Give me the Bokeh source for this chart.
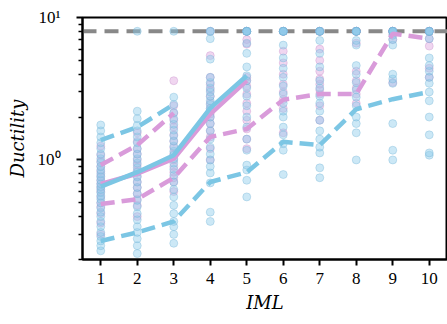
from bokeh.plotting import figure
from bokeh.models import Range1d, FixedTicker
from bokeh.embed import file_html
from bokeh.resources import INLINE

iml = [1, 2, 3, 4, 5, 6, 7, 8, 9, 10]

# scatter data per IML (blue series)
blue_1 = [0.23, 0.25, 0.27, 0.29, 0.31, 0.34, 0.37, 0.40, 0.43, 0.46, 0.50, 0.53, 0.56, 0.59, 0.62,
          0.65, 0.68, 0.72, 0.76, 0.80, 0.85, 0.90, 0.96, 1.02, 1.10, 1.20, 1.32, 1.45, 1.60, 1.76]
blue_2 = [0.22, 0.25, 0.28, 0.31, 0.34, 0.38, 0.42, 0.47, 0.52, 0.58, 0.64, 0.70, 0.76, 0.82, 0.88,
          0.95, 1.02, 1.10, 1.20, 1.32, 1.45, 1.60, 1.75, 1.95, 2.2, 8.0]
blue_3 = [0.26, 0.30, 0.34, 0.37, 0.42, 0.48, 0.55, 0.62, 0.70, 0.78, 0.86, 0.95, 1.02, 1.08, 1.15,
          1.25, 1.36, 1.48, 1.62, 1.78, 1.95, 2.15, 2.45, 2.76, 8.0]
blue_4 = [0.37, 0.43, 0.69, 0.81, 0.9, 1.0, 1.1, 1.23, 1.4, 1.6, 1.8, 2.0, 2.2, 2.3, 2.45, 2.6, 2.8,
          3.0, 3.2, 3.5, 3.8, 5.1, 7.1, 8.0, 8.0]
blue_5 = [0.55, 0.72, 0.85, 0.92, 1.17, 1.4, 1.7, 2.0, 2.4, 2.8, 3.2, 3.6, 3.9, 4.5, 5.6, 6.6,
          8.0, 8.0, 8.0, 8.0, 8.0]
blue_6 = [0.79, 1.17, 1.3, 1.5, 1.7, 2.0, 2.2, 2.5, 2.9, 3.3, 3.8, 4.4, 5.2, 6.4, 8.0, 8.0, 8.0, 8.0, 8.0]
blue_7 = [0.75, 0.88, 1.12, 1.23, 1.4, 1.6, 1.9, 2.2, 2.5, 2.8, 3.2, 3.6, 4.5, 5.6, 6.9, 8.0, 8.0, 8.0, 8.0]
blue_8 = [1.0, 1.55, 1.8, 2.0, 2.4, 2.76, 3.1, 3.5, 4.0, 4.6, 6.4, 6.9, 8.0, 8.0, 8.0, 8.0, 8.0]
blue_9 = [1.0, 1.17, 1.8, 3.45, 3.7, 4.0, 6.4, 7.0, 7.5, 8.0, 8.0, 8.0, 8.0, 8.0]
blue_10 = [1.08, 1.12, 1.5, 2.0, 2.6, 3.0, 3.45, 3.8, 4.2, 4.6, 5.2, 7.1, 8.0, 8.0, 8.0, 8.0]

# scatter data per IML (pink series)
pink_1 = [0.30, 0.36, 0.42, 0.47, 0.50, 0.55, 0.60, 0.64, 0.68, 0.72, 0.77, 0.83, 0.90, 0.98, 1.08, 1.25]
pink_2 = [0.40, 0.48, 0.53, 0.58, 0.64, 0.70, 0.77, 0.84, 0.92, 1.0, 1.1, 1.2, 1.35, 1.55]
pink_3 = [0.6, 0.7, 0.75, 0.82, 0.9, 1.0, 1.1, 1.22, 1.35, 1.5, 1.7, 1.9, 2.13, 2.4, 3.6]
pink_4 = [1.0, 1.2, 1.45, 1.6, 1.8, 2.0, 2.1, 2.3, 2.5, 2.8, 3.1, 3.4, 3.8, 5.4, 8.0]
pink_5 = [1.2, 1.4, 1.65, 1.9, 2.2, 2.5, 2.9, 3.3, 3.6, 3.8, 6.5, 7.0, 8.0, 8.0, 8.0]
pink_6 = [1.55, 2.3, 2.65, 3.0, 3.4, 4.0, 4.8, 5.8, 8.0, 8.0, 8.0]
pink_7 = [1.9, 2.4, 2.9, 3.1, 3.4, 3.7, 4.2, 5.0, 6.0, 8.0, 8.0, 8.0]
pink_8 = [2.5, 2.9, 3.2, 3.6, 4.2, 6.6, 8.0, 8.0, 8.0, 8.0]
pink_9 = [3.5, 7.0, 7.7, 8.0, 8.0, 8.0, 8.0, 8.0]
pink_10 = [3.8, 4.4, 6.3, 7.1, 8.0, 8.0, 8.0, 8.0]

# summary lines
blue_median_x = [1, 2, 3, 4, 5]
blue_median = [0.65, 0.82, 1.08, 2.31, 3.9]
blue_upper_x = [1, 2, 3]
blue_upper = [1.38, 1.70, 2.45]
blue_lower = [0.27, 0.31, 0.37, 0.70, 0.82, 1.34, 1.27, 2.27, 2.67, 3.0]

pink_median_x = [1, 2, 3, 4, 5]
pink_median = [0.68, 0.80, 1.02, 2.1, 3.6]
pink_upper_x = [1, 2, 3]
pink_upper = [0.92, 1.27, 2.13]
pink_lower = [0.49, 0.53, 0.75, 1.45, 1.65, 2.65, 2.9, 2.9, 7.7, 7.1]

collapse_level = 8.0

y_major_ticks = [1, 10]
y_minor_ticks = [0.2, 0.3, 0.4, 0.5, 0.6, 0.7, 0.8, 0.9, 2, 3, 4, 5, 6, 7, 8, 9]
y_tick_labels = {1: "10\u2070", 10: "10\u00b9"}

BLUE = "#7CC6E4"
PINK = "#D99BDA"
PT_BLUE = "#8ECDEB"
PT_PINK = "#DDA5DD"
TICK_FONT = "Liberation Serif"
LABEL_FONT = "DejaVu Serif"

p = figure(width=447, height=324, y_axis_type="log", output_backend="svg",
           toolbar_location=None, x_range=Range1d(0.5, 10.5), y_range=Range1d(0.2, 10),
           min_border_left=82, min_border_right=0, min_border_top=17, min_border_bottom=65)

p.xgrid.visible = False
p.ygrid.visible = False
p.outline_line_color = "black"
p.outline_line_width = 2

# collapse line
p.line([0.5, 10.5], [collapse_level, collapse_level], line_color="#888888", line_width=4,
       line_dash="14 8")

blue_sets = [blue_1, blue_2, blue_3, blue_4, blue_5, blue_6, blue_7, blue_8, blue_9, blue_10]
pink_sets = [pink_1, pink_2, pink_3, pink_4, pink_5, pink_6, pink_7, pink_8, pink_9, pink_10]

bx, by = [], []
for xv, ys in zip(iml, blue_sets):
    bx += [xv] * len(ys)
    by += ys
px, py = [], []
for xv, ys in zip(iml, pink_sets):
    px += [xv] * len(ys)
    py += ys

p.scatter(px, py, size=8, fill_color=PT_PINK, fill_alpha=0.45, line_color="#C68BC8", line_alpha=0.35)
p.scatter(bx, by, size=8, fill_color=PT_BLUE, fill_alpha=0.45, line_color="#6FB1D3", line_alpha=0.35)

# pink lines
p.line(pink_median_x, pink_median, line_color=PINK, line_width=4.5)
p.line(pink_upper_x, pink_upper, line_color=PINK, line_width=4.5, line_dash="14 7")
p.line(iml, pink_lower, line_color=PINK, line_width=4.5, line_dash="14 7")
# blue lines
p.line(blue_median_x, blue_median, line_color=BLUE, line_width=4.5)
p.line(blue_upper_x, blue_upper, line_color=BLUE, line_width=4.5, line_dash="14 7")
p.line(iml, blue_lower, line_color=BLUE, line_width=4.5, line_dash="14 7")

# axes
p.xaxis.ticker = FixedTicker(ticks=iml)
p.yaxis.ticker = FixedTicker(ticks=y_major_ticks, minor_ticks=y_minor_ticks)
p.yaxis.major_label_overrides = y_tick_labels
p.xaxis.axis_label = "IML"
p.yaxis.axis_label = "Ductility"
for ax in (p.xaxis[0], p.yaxis[0]):
    ax.axis_line_color = "black"
    ax.axis_line_width = 2
    ax.major_tick_line_color = "black"
    ax.major_tick_line_width = 2
    ax.major_tick_out = 6
    ax.major_tick_in = 0
    ax.major_label_text_font = TICK_FONT
    ax.major_label_text_font_size = "17px"
    ax.major_label_text_color = "black"
    ax.axis_label_text_font = LABEL_FONT
    ax.axis_label_text_font_size = "18px"
    ax.axis_label_text_font_style = "italic"
    ax.axis_label_text_color = "black"

p.xaxis.minor_tick_line_color = None
p.xaxis.major_label_standoff = 7
p.xaxis.axis_label_standoff = 5
p.yaxis.minor_tick_line_color = "black"
p.yaxis.minor_tick_line_width = 1.5
p.yaxis.minor_tick_out = 4
p.yaxis.minor_tick_in = 0
p.yaxis.major_label_standoff = 16
p.yaxis.axis_label_standoff = 7

open("out.html", "w").write(file_html(p, INLINE))
